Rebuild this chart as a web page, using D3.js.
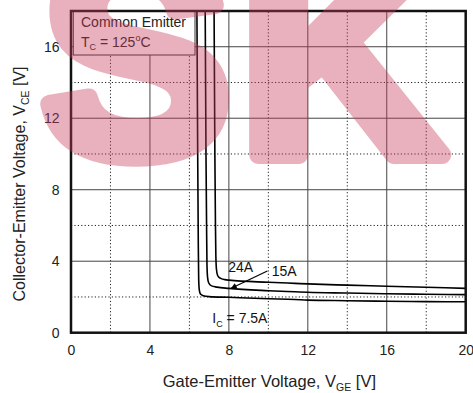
<!DOCTYPE html>
<html>
<head>
<meta charset="utf-8">
<script src="https://cdn.jsdelivr.net/npm/d3@7/dist/d3.min.js"></script>
<style>
  html, body { margin: 0; padding: 0; background: #fff; }
  svg { display: block; font-family: "Liberation Sans", Arial, sans-serif; }
</style>
</head>
<body>
<svg id="chart" width="473" height="393"></svg>
<script>
// V_GE vs V_CE at Tc = 125 °C for three collector currents
const currents = ["7.5A", "15A", "24A"];

const vge_7_5A = [6.38, 6.42, 6.45, 6.47, 6.5, 6.56, 6.7, 7.0, 8, 10, 11.35, 12, 14, 16, 18, 20];
const vce_7_5A = [18, 10, 5, 3.0, 2.4, 2.16, 2.07, 2.02, 1.98, 1.9, 1.86, 1.82, 1.79, 1.76, 1.74, 1.73];

const vge_15A = [6.8, 6.84, 6.87, 6.89, 6.92, 6.98, 7.12, 7.4, 8, 10, 11.35, 12, 14, 16, 18, 20];
const vce_15A = [18, 10, 6, 3.8, 3.1, 2.78, 2.62, 2.55, 2.48, 2.35, 2.29, 2.26, 2.22, 2.18, 2.15, 2.13];

const vge_24A = [7.25, 7.29, 7.32, 7.34, 7.37, 7.43, 7.56, 7.8, 8, 10, 11.35, 12, 14, 16, 18, 20];
const vce_24A = [18, 10, 6, 4.3, 3.55, 3.2, 3.05, 2.97, 2.94, 2.82, 2.76, 2.73, 2.66, 2.6, 2.54, 2.48];

const xMajor = [0, 4, 8, 12, 16, 20];
const xMinor = [2, 6, 10, 14, 18];
const yMajor = [0, 4, 8, 12, 16];
const yMinor = [2, 6, 10, 14];

// curve labels [text, V_GE, V_CE] and the pointer for 15A
const labelText = ["24A", "15A", "7.5A"];
const labelVge = [7.97, 10.17, 7.16];
const labelVce = [3.42, 3.2, 0.52];
const arrowFrom = [9.95, 3.45];
const arrowTo = [8.12, 2.49];

const W = 473, H = 393;
const margin = { top: 11, right: 7.3, bottom: 60.3, left: 71 };

const svg = d3.select("#chart");

const x = d3.scaleLinear().domain([0, 20]).range([margin.left, W - margin.right]);
const y = d3.scaleLinear().domain([0, 18]).range([H - margin.bottom, margin.top]);

svg.append("defs").append("marker")
  .attr("id", "head")
  .attr("viewBox", "0 0 10 10")
  .attr("refX", 9).attr("refY", 5)
  .attr("markerWidth", 8).attr("markerHeight", 6)
  .attr("markerUnits", "userSpaceOnUse")
  .attr("orient", "auto")
  .append("path").attr("d", "M0,0 L10,5 L0,10 Z").attr("fill", "#000");

// grid
const grid = svg.append("g");
grid.selectAll(".vmin").data(xMinor).join("line")
  .attr("x1", d => x(d)).attr("x2", d => x(d))
  .attr("y1", y(0)).attr("y2", y(18))
  .attr("stroke", "#222").attr("stroke-width", 1).attr("stroke-dasharray", "1.2,2.2");
grid.selectAll(".hmin").data(yMinor).join("line")
  .attr("y1", d => y(d)).attr("y2", d => y(d))
  .attr("x1", x(0)).attr("x2", x(20))
  .attr("stroke", "#222").attr("stroke-width", 1).attr("stroke-dasharray", "1.2,2.2");
grid.selectAll(".vmaj").data(xMajor.slice(1, -1)).join("line")
  .attr("x1", d => x(d)).attr("x2", d => x(d))
  .attr("y1", y(0)).attr("y2", y(18))
  .attr("stroke", "#444").attr("stroke-width", 1);
grid.selectAll(".hmaj").data(yMajor.slice(1)).join("line")
  .attr("y1", d => y(d)).attr("y2", d => y(d))
  .attr("x1", x(0)).attr("x2", x(20))
  .attr("stroke", "#444").attr("stroke-width", 1);

// axes (labels only, frame drawn separately)
const xAxis = svg.append("g")
  .attr("transform", `translate(0,${y(0)})`)
  .call(d3.axisBottom(x).tickValues(xMajor).tickSize(0).tickPadding(12.4));
const yAxis = svg.append("g")
  .attr("transform", `translate(${x(0)},0)`)
  .call(d3.axisLeft(y).tickValues(yMajor).tickSize(0).tickPadding(11.5));
[xAxis, yAxis].forEach(g => {
  g.select(".domain").remove();
  g.selectAll("text").attr("font-size", 14).attr("fill", "#222")
    .attr("font-family", "\"Liberation Sans\", Arial, sans-serif");
});

// curves
const line = d3.line().x(d => x(d[0])).y(d => y(d[1])).curve(d3.curveMonotoneX);
const series = [
  d3.zip(vge_7_5A, vce_7_5A),
  d3.zip(vge_15A, vce_15A),
  d3.zip(vge_24A, vce_24A)
];
svg.append("g").selectAll("path").data(series).join("path")
  .attr("d", line).attr("fill", "none").attr("stroke", "#000").attr("stroke-width", 1.6);

// legend box
const legend = svg.append("g");
legend.append("rect")
  .attr("x", x(0) + 2.3).attr("y", y(18))
  .attr("width", 121.7).attr("height", 44)
  .attr("fill", "#fff").attr("stroke", "#333").attr("stroke-width", 1);
legend.append("text").attr("x", x(0) + 10).attr("y", 27.4)
  .attr("font-size", 14).attr("fill", "#222").text("Common Emitter");
const tc = legend.append("text").attr("x", x(0) + 10).attr("y", 46.7)
  .attr("font-size", 14).attr("fill", "#222");
tc.append("tspan").text("T");
tc.append("tspan").attr("font-size", 9).attr("dy", 3.5).text("C");
tc.append("tspan").attr("dy", -3.5).text(" = 125");
tc.append("tspan").attr("font-size", 9).attr("dy", -6).text("o");
tc.append("tspan").attr("dy", 6).text("C");

// curve labels
const lbl = svg.append("g").attr("font-size", 14).attr("fill", "#111");
labelText.forEach((t, i) => {
  const el = lbl.append("text").attr("x", x(labelVge[i])).attr("y", y(labelVce[i]));
  if (i === 2) {
    el.append("tspan").text("I");
    el.append("tspan").attr("font-size", 9).attr("dy", 4).text("C");
    el.append("tspan").attr("dy", -4).text(" = " + t);
  } else {
    el.text(t);
  }
});
svg.append("line")
  .attr("x1", x(arrowFrom[0])).attr("y1", y(arrowFrom[1]))
  .attr("x2", x(arrowTo[0])).attr("y2", y(arrowTo[1]))
  .attr("stroke", "#000").attr("stroke-width", 1.2)
  .attr("marker-end", "url(#head)");

// frame
svg.append("rect")
  .attr("x", x(0)).attr("y", y(18))
  .attr("width", x(20) - x(0)).attr("height", y(0) - y(18))
  .attr("fill", "none").attr("stroke", "#111").attr("stroke-width", 2.5);

// axis titles
const xt = svg.append("text")
  .attr("x", (x(0) + x(20)) / 2 + 1).attr("y", 386.5)
  .attr("text-anchor", "middle").attr("font-size", 16.5).attr("fill", "#222");
xt.append("tspan").text("Gate-Emitter Voltage, V");
xt.append("tspan").attr("font-size", 10.5).attr("dy", 4).text("GE");
xt.append("tspan").attr("dy", -4).text(" [V]");

const yt = svg.append("text")
  .attr("transform", `translate(25,184) rotate(-90)`)
  .attr("text-anchor", "middle").attr("font-size", 16).attr("fill", "#222");
yt.append("tspan").text("Collector-Emitter Voltage, V");
yt.append("tspan").attr("font-size", 10.5).attr("dy", 4).text("CE");
yt.append("tspan").attr("dy", -4).text(" [V]");

// translucent brand mark across the upper part
svg.append("g")
  .attr("opacity", 0.4)
  .attr("pointer-events", "none")
  .append("text")
  .attr("x", 41).attr("y", 155)
  .attr("font-family", "\"Liberation Sans\", Arial, sans-serif")
  .attr("font-size", 285).attr("font-weight", "bold")
  .attr("letter-spacing", 8)
  .attr("fill", "rgb(200,62,92)")
  .attr("stroke", "rgb(200,62,92)").attr("stroke-width", 18)
  .attr("stroke-linejoin", "round")
  .text("SK");
</script>
</body>
</html>
